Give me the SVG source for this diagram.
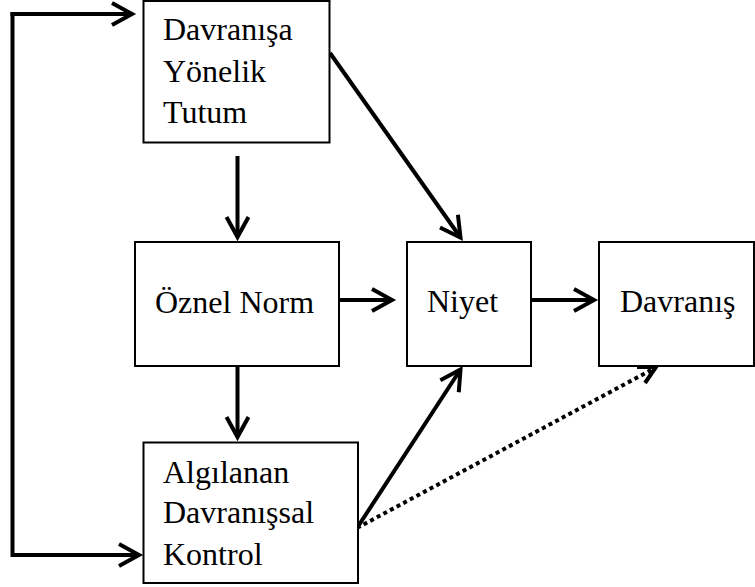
<svg xmlns="http://www.w3.org/2000/svg" width="755" height="587" viewBox="0 0 755 587">
  <defs>
    <style>
      .box { fill: #ffffff; stroke: #000000; stroke-width: 2; }
      .label { font-family: "Liberation Serif", "Times New Roman", serif; font-size: 32px; fill: #000000; }
      .conn { fill: none; stroke: #000000; stroke-width: 4; }
      .dotted { stroke-dasharray: 4 3.5; }
    </style>
    <marker id="arrow" markerUnits="userSpaceOnUse" viewBox="-24 -14 28 28" markerWidth="28" markerHeight="28" refX="0" refY="0" orient="auto" overflow="visible">
      <path d="M-20,-11 L0,0 L-20,11" fill="none" stroke="#000000" stroke-width="4" stroke-linejoin="miter" stroke-linecap="butt"/>
    </marker>
  </defs>

  <!-- connectors -->
  <g id="connectors">
    <!-- feedback loop on the left -->
    <path class="conn" d="M12.5,12 L12.5,555 L139,555" marker-end="url(#arrow)"/>
    <path class="conn" d="M10.5,14 L132,14" marker-end="url(#arrow)"/>
    <!-- vertical arrows -->
    <line class="conn" x1="237.5" y1="156" x2="237.5" y2="237" marker-end="url(#arrow)"/>
    <line class="conn" x1="237.5" y1="366" x2="237.5" y2="437" marker-end="url(#arrow)"/>
    <!-- horizontal arrows -->
    <line class="conn" x1="339" y1="300" x2="392" y2="300" marker-end="url(#arrow)"/>
    <line class="conn" x1="531" y1="300" x2="594" y2="300" marker-end="url(#arrow)"/>
    <!-- diagonals into Niyet -->
    <line class="conn" x1="330" y1="53" x2="460.5" y2="237.5" marker-end="url(#arrow)"/>
    <line class="conn" x1="357" y1="528" x2="460.5" y2="369.5" marker-end="url(#arrow)"/>
    <!-- dotted link to Davranış -->
    <line class="conn dotted" x1="357" y1="528" x2="654" y2="368.5"/>
    <path d="M637,367 L656,367 L645,383" fill="none" stroke="#000000" stroke-width="4"/>
  </g>

  <g id="tutum">
    <rect class="box" x="143.5" y="1" width="186" height="141.5"/>
    <text class="label" x="163" y="40">Davranışa</text>
    <text class="label" x="163" y="82">Yönelik</text>
    <text class="label" x="163" y="123">Tutum</text>
  </g>

  <g id="oznel-norm">
    <rect class="box" x="135" y="242" width="204" height="124"/>
    <text class="label" x="155" y="313">Öznel Norm</text>
  </g>

  <g id="niyet">
    <rect class="box" x="407" y="242" width="124" height="124"/>
    <text class="label" x="427" y="312">Niyet</text>
  </g>

  <g id="davranis">
    <rect class="box" x="599" y="242" width="155" height="124"/>
    <text class="label" x="620" y="312">Davranış</text>
  </g>

  <g id="kontrol">
    <rect class="box" x="143.5" y="442.5" width="214.5" height="140.5"/>
    <text class="label" x="163" y="483">Algılanan</text>
    <text class="label" x="163" y="523">Davranışsal</text>
    <text class="label" x="163" y="565">Kontrol</text>
  </g>
</svg>
